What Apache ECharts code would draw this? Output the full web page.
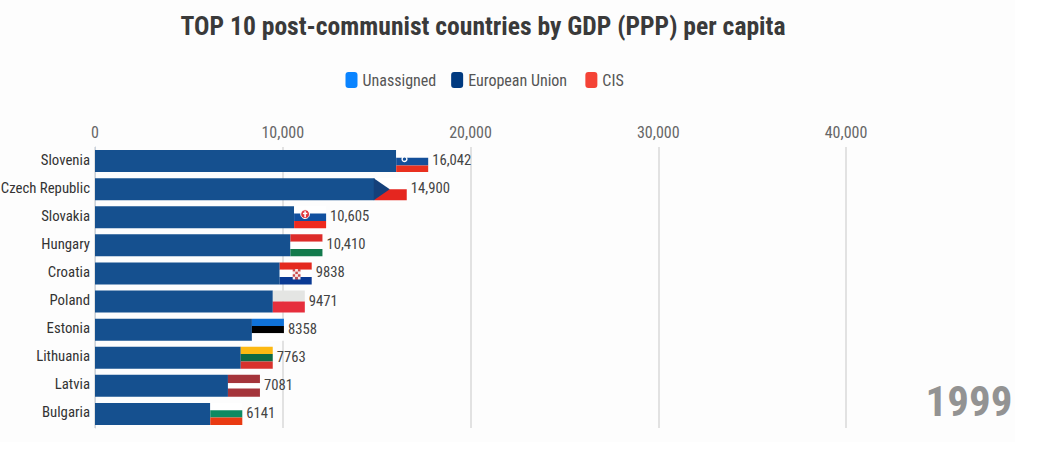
<!DOCTYPE html>
<html><head><meta charset="utf-8">
<style>html,body{margin:0;padding:0;background:#fff}#c{width:1049px;height:473px}
#c svg text{font-stretch:75% !important}</style>
<script src="https://cdn.jsdelivr.net/npm/echarts@6/dist/echarts.min.js"></script>
</head><body><div id="c"></div>
<script>
const countries = ['Slovenia','Czech Republic','Slovakia','Hungary','Croatia','Poland','Estonia','Lithuania','Latvia','Bulgaria'];
const gdp = [16042,14900,10605,10410,9838,9471,8358,7763,7081,6141];
const legendNames = ['Unassigned','European Union','CIS'];
const yearLabel = '1999';
const titleText = 'TOP 10 post-communist countries by GDP (PPP) per capita';

const FONT = 'Roboto,sans-serif';
const FLAG_W = 32;
const legendColors = {'Unassigned':'#0a84ff','European Union':'#003a80','CIS':'#f44336'};
const legendTextWidths = {'Unassigned':84,'European Union':108,'CIS':30};
const flagStyles = {
  'Slovenia':[['#ffffff',1],['#15509a',1],['#e9301f',.85]],
  'Czech Republic':[['#ffffff',1],['#e5261f',1]],
  'Slovakia':[['#ffffff',1],['#11509f',1],['#ee2a1e',1]],
  'Hungary':[['#dd2c2a',1],['#ffffff',1],['#137a4c',1]],
  'Croatia':[['#e4291f',1],['#ffffff',1],['#0a3a94',1]],
  'Poland':[['#e4e5e3',1],['#e62e3c',1]],
  'Estonia':[['#0f72d8',1],['#000000',1],['#ffffff',1]],
  'Lithuania':[['#fdb913',1],['#0f6a44',1],['#d8322c',1]],
  'Latvia':[['#a4343a',1],['#ffffff',.6],['#a4343a',1]],
  'Bulgaria':[['#ffffff',1],['#0c8a62',1],['#e93a12',1]]
};
const fmt = v => v >= 10000 ? v.toLocaleString('en-US') : String(v);

function renderFlag(params, api) {
  const name = countries[api.value(1)];
  const end = api.coord([api.value(0), api.value(1)]);
  const h = 22;
  const x = end[0], top = end[1] - h/2;
  const stripes = flagStyles[name];
  const tot = stripes.reduce((a,s)=>a+s[1],0);
  const kids = [];
  let y = top;
  stripes.forEach(s => {
    const sh = h*s[1]/tot;
    kids.push({type:'rect',shape:{x,y,width:FLAG_W,height:sh},style:{fill:s[0]}});
    y += sh;
  });
  if (name === 'Czech Republic') {
    kids.push({type:'polygon',shape:{points:[[x-1,top],[x+15,top+h/2],[x-1,top+h]]},style:{fill:'#14407a'}});
  }
  if (name === 'Slovenia') {
    kids.push({type:'circle',shape:{cx:x+8,cy:top+h*0.36,r:2.4},style:{fill:'#15509a',stroke:'#ffffff',lineWidth:1.4}});
  }
  if (name === 'Slovakia') {
    kids.push({type:'circle',shape:{cx:x+11,cy:top+h*0.36,r:4.4},style:{fill:'#e0343a',stroke:'#ffffff',lineWidth:1}});
    kids.push({type:'rect',shape:{x:x+10.2,y:top+h*0.36-3,width:1.6,height:6},style:{fill:'#ffffff'}});
    kids.push({type:'rect',shape:{x:x+8.8,y:top+h*0.36-1.4,width:4.4,height:1.4},style:{fill:'#ffffff'}});
  }
  if (name === 'Croatia') {
    for (let r=0;r<4;r++) for (let c=0;c<3;c++) {
      kids.push({type:'rect',shape:{x:x+13+c*2.6,y:top+h*0.3+r*2.6,width:2.6,height:2.6},
        style:{fill:(r+c)%2?'#f4eaea':'#cc4a4a'}});
    }
  }
  kids.push({type:'text',style:{x:x+FLAG_W+4,y:end[1]-1,text:fmt(api.value(0)),
    fill:'#444444',font:'14.7px '+FONT,verticalAlign:'middle',align:'left'}});
  return {type:'group',children:kids};
}

const chart = echarts.init(document.getElementById('c'), null, {renderer:'svg'});
const barCommon = {type:'bar',barWidth:22,barGap:'-100%'};
chart.setOption({
  animation:false,
  backgroundColor:'#ffffff',
  title:{text:titleText,left:478,top:8,textAlign:'center',
    textStyle:{fontFamily:FONT,fontWeight:'bold',fontSize:25.6,color:'#3a3a3a'}},
  legend:{top:67,left:340.5,itemWidth:12,itemHeight:16,itemGap:5,
    data:legendNames.map(n=>({name:n,icon:'roundRect',itemStyle:{color:legendColors[n]},
      textStyle:{width:legendTextWidths[n]}})),
    textStyle:{fontFamily:FONT,fontSize:16,color:'#555555'}},
  grid:{left:95,top:147,width:751,height:281,outerBoundsMode:'none'},
  xAxis:{type:'value',position:'top',min:0,max:40000,interval:10000,
    axisLine:{show:false},axisTick:{show:false},
    axisLabel:{fontFamily:FONT,fontSize:16,color:'#666666',margin:7,
      formatter:v=>v.toLocaleString('en-US')},
    splitLine:{show:true,lineStyle:{color:'#e2e2e2',width:2}}},
  yAxis:{type:'category',inverse:true,data:countries,
    axisLine:{show:true,lineStyle:{color:'#c9d3de',width:1}},axisTick:{show:false},
    axisLabel:{fontFamily:FONT,fontSize:14.8,color:'#333333',margin:5,
      formatter:v=>'{n|'+v+'}',rich:{n:{fontFamily:FONT,fontSize:14.8,color:'#333333',padding:[0,0,3,0]}}}},
  series:[
    Object.assign({name:'Unassigned',data:[],itemStyle:{color:legendColors['Unassigned']},z:2},barCommon),
    Object.assign({name:'European Union',data:gdp,itemStyle:{color:'#15508f'},z:3},barCommon),
    Object.assign({name:'CIS',data:[],itemStyle:{color:legendColors['CIS']},z:2},barCommon),
    {name:'flags',type:'custom',renderItem:renderFlag,z:4,
      data:gdp.map((v,i)=>[v,i]),encode:{x:0,y:1},silent:true}
  ],
  graphic:[
    {type:'rect',left:0,top:0,z:-1,silent:true,shape:{width:1015,height:442},style:{fill:'#fdfdfd'}},
    {type:'text',left:925.5,top:379,style:{text:yearLabel,fill:'#939393',font:'bold 43px '+FONT}}]
});
</script></body></html>
